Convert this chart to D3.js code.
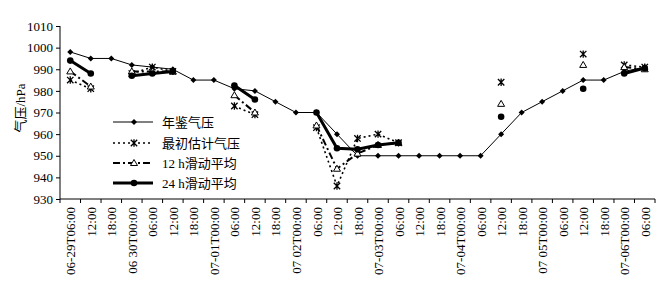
<!DOCTYPE html>
<html><head><meta charset="utf-8">
<script src="https://cdn.jsdelivr.net/npm/d3@7"></script>
<style>
html,body{margin:0;padding:0;background:#fff;}
svg{display:block;}
text{font-family:"Liberation Serif","Noto Sans CJK SC",serif;fill:#000;}
</style></head>
<body>
<svg id="c" width="672" height="291"></svg>
<script>
const categories = ["06-29T06:00","12:00","18:00","06 30T00:00","06:00","12:00","18:00","07-01T00:00","06:00","12:00","18:00","07 02T00:00","06:00","12:00","18:00","07-03T00:00","06:00","12:00","18:00","07-04T00:00","06:00","12:00","18:00","07 05T00:00","06:00","12:00","18:00","07-06T00:00","06:00"];
const annual  = [998,995,995,992,991,990,985,985,981,980,975,970,970,960,950,950,950,950,950,950,950,960,970,975,980,985,985,989,991];
const initial = [985,981,null,988,991,989,null,null,973,969,null,null,963,936,958,960,956,null,null,null,null,984,null,null,null,997,null,992,991];
const avg12   = [989,982,null,989,989,989,null,null,978,970,null,null,964,944,951,955,956,null,null,null,null,974,null,null,null,992,null,991,990];
const avg24   = [994,988,null,987,988,989,null,null,982.5,976,null,null,970,953.5,953,955,956,null,null,null,null,968,null,null,null,981,null,988,990.5];
const yTicks  = [930,940,950,960,970,980,990,1000,1010];
const legendLabels = ["年鉴气压","最初估计气压","12 h滑动平均","24 h滑动平均"];

const svg = d3.select("#c");
const mL = 60, mR = 655, mT = 26, mB = 199;
const x = d3.scaleBand().domain(d3.range(categories.length)).range([mL, mR]).padding(0);
const y = d3.scaleLinear().domain([930,1010]).range([mB, mT]);
const cx = i => x(i) + x.bandwidth()/2;

// Y axis
const yAxis = d3.axisLeft(y).tickValues(yTicks).tickSize(4).tickPadding(3).tickFormat(d3.format("d"));
const ga = svg.append("g").attr("transform", `translate(${mL},0)`).call(yAxis);
ga.select(".domain").attr("stroke","#000").attr("d", `M0,${mT}V${mB}`);
ga.selectAll(".tick line").attr("stroke","#000");
ga.selectAll(".tick text").style("font-size","13px").style("font-family","Liberation Serif");

// X axis: ticks at band boundaries
const gx = svg.append("g").attr("transform", `translate(0,${mB})`);
gx.append("line").attr("x1", mL).attr("x2", mR).attr("stroke","#000");
gx.selectAll("line.t").data(d3.range(categories.length+1)).join("line").attr("class","t")
  .attr("x1", i => i < categories.length ? x(i) : mR).attr("x2", i => i < categories.length ? x(i) : mR)
  .attr("y1",0).attr("y2",4).attr("stroke","#000");
gx.selectAll("text").data(categories).join("text")
  .attr("transform",(d,i)=>`translate(${cx(i)+0.5},8) rotate(-90)`)
  .attr("text-anchor","end").attr("dy","0.35em")
  .style("font-size","13px").text(d=>d);

// Y label
svg.append("text").attr("transform","translate(20,108) rotate(-90)")
  .attr("text-anchor","middle").attr("dy","0.35em").style("font-size","13px").text("气压/hPa");

const line = d3.line().defined(d=>d.v!=null).x(d=>cx(d.i)).y(d=>y(d.v));
const pts = arr => arr.map((v,i)=>({i,v}));

const styles = [
  {data: annual, w:1, dash:null, marker:"diamond"},
  {data: initial, w:1.6, dash:"2,3", marker:"asterisk"},
  {data: avg12, w:2, dash:"7,3,2,3", marker:"triangle"},
  {data: avg24, w:3, dash:null, marker:"circle"}
];

function drawMarker(g, m, px, py){
  if(m==="diamond"){
    g.append("path").attr("d",`M${px},${py-3}L${px+3},${py}L${px},${py+3}L${px-3},${py}Z`).attr("fill","#000");
  } else if(m==="asterisk"){
    const s=3.2;
    g.append("path").attr("d",`M${px-s},${py-s}L${px+s},${py+s}M${px-s},${py+s}L${px+s},${py-s}M${px},${py-s-0.5}L${px},${py+s+0.5}`)
      .attr("stroke","#000").attr("stroke-width",1.3).attr("fill","none");
  } else if(m==="triangle"){
    g.append("path").attr("d",`M${px},${py-3.5}L${px+3.5},${py+2.5}L${px-3.5},${py+2.5}Z`).attr("fill","#fff").attr("stroke","#000").attr("stroke-width",1);
  } else {
    g.append("circle").attr("cx",px).attr("cy",py).attr("r",3.3).attr("fill","#000");
  }
}

styles.forEach(s=>{
  const g = svg.append("g");
  g.append("path").datum(pts(s.data)).attr("d",line).attr("fill","none").attr("stroke","#000")
    .attr("stroke-width",s.w).attr("stroke-dasharray",s.dash);
  pts(s.data).filter(d=>d.v!=null).forEach(d=>drawMarker(g,s.marker,cx(d.i),y(d.v)));
});

// Legend
const lg = svg.append("g");
const rows = [122,143,163,183];
legendLabels.forEach((t,k)=>{
  const s = styles[k];
  lg.append("line").attr("x1",113).attr("x2",153).attr("y1",rows[k]).attr("y2",rows[k])
    .attr("stroke","#000").attr("stroke-width",s.w).attr("stroke-dasharray",s.dash);
  drawMarker(lg, s.marker, 134, rows[k]);
  lg.append("text").attr("x",162).attr("y",rows[k]).attr("dy","0.35em").style("font-size","13px").text(t);
});
</script>
</body></html>
